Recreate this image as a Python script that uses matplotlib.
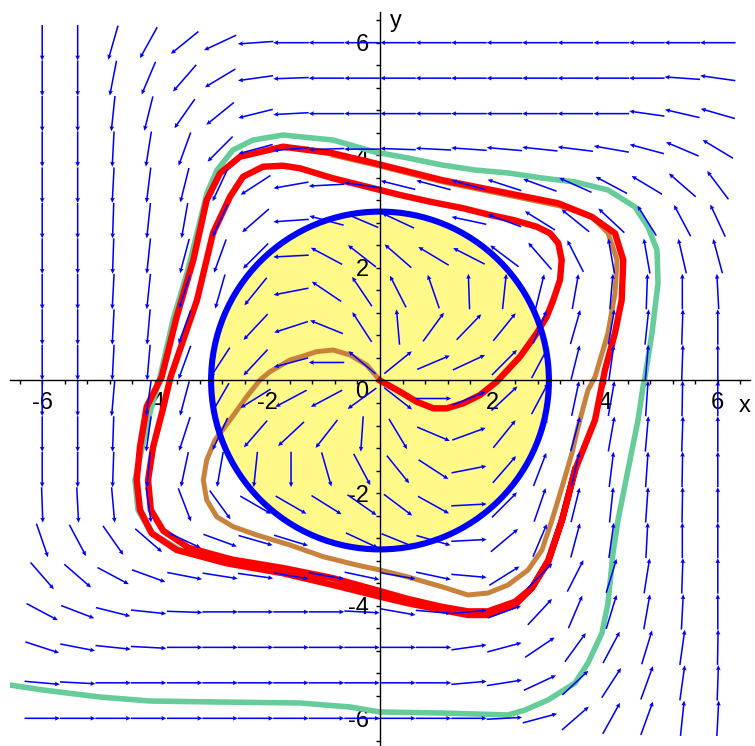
import numpy as np
import matplotlib
matplotlib.use('Agg')
import matplotlib.pyplot as plt
from matplotlib.patches import Circle
from matplotlib.ticker import FixedLocator

plt.rcParams['font.family'] = ['Liberation Sans', 'DejaVu Sans']

# direction field: arrow centres and arrow angles (degrees), rows from top (y=6) to bottom (y=-6)
field_x = [-6.0, -5.37, -4.74, -4.11, -3.47, -2.84, -2.21, -1.58, -0.95, -0.32,
           0.32, 0.95, 1.58, 2.21, 2.84, 3.47, 4.11, 4.74, 5.37, 6.0]
field_y = [6.0, 5.37, 4.74, 4.11, 3.47, 2.84, 2.21, 1.58, 0.95, 0.32,
           -0.32, -0.95, -1.58, -2.21, -2.84, -3.47, -4.11, -4.74, -5.37, -6.0]
field_angle = [
    [270, 270, 254, 241, 219, 205, 184, 180, 180, 180, 180, 180, 180, 180, 180, 180, 180, 180, 180, 180],
    [270, 270, 259, 247, 229, 211, 188, 182, 180, 180, 180, 180, 180, 180, 180, 180, 180, 180, 176, 172],
    [270, 270, 264, 256, 235, 219, 194, 183, 180, 180, 180, 180, 180, 180, 180, 180, 180, 172, 167, 164],
    [270, 270, 267, 261, 250, 225, 195, 185, 182, 180, 178, 177, 176, 175, 174, 173, 170, 165, 157, 149],
    [270, 270, 267, 263, 256, 245, 213, 190, 183, 172, 166, 165, 165, 162, 160, 156, 152, 149, 139, 127],
    [270, 270, 268, 264, 260, 245, 221, 184, 165, 157, 155, 160, 168, 160, 148, 141, 137, 122, 118, 115],
    [270, 270, 268, 264, 255, 250, 225, 183, 152, 142, 139, 149, 153, 143, 131, 117, 100, 100, 103, 105],
    [270, 270, 267, 264, 252, 254, 231, 191, 146, 124, 117, 109, 92, 84, 76, 80, 85, 88, 90, 93],
    [270, 270, 267, 265, 250, 250, 227, 198, 158, 123, 95, 54, 46, 51, 68, 74, 80, 84, 88, 90],
    [270, 270, 267, 265, 250, 237, 227, 195, 180, 140, 39, 23, 25, 45, 62, 76, 82, 85, 88, 90],
    [270, 270, 265, 262, 255, 240, 212, 208, 208, 216, 322, 0, 22, 43, 62, 78, 80, 86, 89, 90],
    [270, 270, 268, 262, 252, 245, 229, 223, 232, 266, 301, 337, 20, 51, 65, 75, 80, 85, 88, 90],
    [270, 270, 268, 265, 258, 260, 264, 270, 286, 298, 309, 327, 11, 49, 69, 77, 83, 86, 89, 90],
    [272, 273, 275, 278, 291, 306, 330, 330, 328, 325, 323, 331, 3, 45, 71, 76, 84, 86, 89, 90],
    [289, 298, 305, 319, 335, 340, 344, 343, 345, 335, 338, 344, 3, 40, 67, 75, 82, 87, 90, 90],
    [311, 319, 332, 340, 349, 351, 352, 350, 350, 348, 350, 348, 355, 32, 45, 63, 73, 81, 88, 90],
    [332, 339, 346, 354, 358, 0, 0, 0, 0, 357, 350, 355, 5, 20, 47, 67, 73, 80, 87, 90],
    [342, 349, 354, 357, 0, 0, 0, 0, 0, 0, 0, 0, 8, 15, 34, 54, 62, 73, 82, 89],
    [355, 357, 0, 0, 0, 0, 0, 0, 0, 0, 0, 0, 5, 9, 25, 43, 57, 70, 82, 88],
    [0, 0, 0, 0, 0, 0, 0, 0, 0, 0, 0, 0, 0, 3, 15, 41, 61, 70, 84, 87],
]

# trajectory starting at the origin (red spiral)
red_x = [0.0, 0.355, 0.652, 0.947, 1.185, 1.48, 1.776, 2.073, 2.487, 2.783, 2.961, 3.078,
         3.197, 3.227, 3.167, 3.02, 2.783, 2.368, 1.954, 1.48, 0.888, 0.355, 0.0,
         -0.835, -1.421, -1.723, -2.078, -2.433, -2.664, -2.966, -3.25, -3.72,
         -3.86, -4.03, -4.12, -4.07, -3.85, -3.40, -2.63, -1.723, -0.835, 0.0,
         0.497, 1.101, 1.563, 1.918, 2.398, 2.7, 2.984, 3.233, 3.464, 3.819, 3.996,
         4.174, 4.293, 4.321, 4.174, 3.76, 3.167, 2.279, 1.096, -0.089,
         -0.835, -1.723, -2.487, -2.842, -3.078, -3.316, -3.611, -3.877,
         -4.144, -4.263, -4.322, -4.263, -4.055, -3.611, -2.723, -1.723, -0.835, 0.0,
         0.497, 1.096, 1.563, 1.918, 2.398, 2.694, 2.99, 3.233, 3.464]
red_y = [0.0, -0.199, -0.377, -0.494, -0.494, -0.405, -0.258, -0.021, 0.423, 0.838, 1.133, 1.43,
         1.785, 2.14, 2.437, 2.615, 2.732, 2.851, 2.94, 3.059, 3.176, 3.295, 3.384,
         3.592, 3.769, 3.815, 3.797, 3.62, 3.265, 2.62, 1.43, 0.062,
         -0.524, -1.181, -1.767, -2.3, -2.67, -2.97, -3.18, -3.33, -3.51, -3.74,
         -3.88, -4.02, -4.10, -4.10, -3.93, -3.68, -3.20, -2.478, -1.59, -0.702, 0.187,
         0.844, 1.43, 2.14, 2.615, 2.909, 3.147, 3.325, 3.561, 3.858,
         4.036, 4.153, 3.975, 3.68, 3.206, 2.14, 1.133, 0.067,
         -0.465, -1.176, -1.767, -2.3, -2.714, -3.011, -3.247, -3.424, -3.632, -3.84,
         -3.957, -4.076, -4.165, -4.165, -3.988, -3.691, -3.218, -2.478, -1.59]

# second trajectory from the origin (brown)
brown_x = [0.0, -0.236, -0.533, -0.835, -1.124, -1.421, -1.599, -1.954, -2.131, -2.368,
           -2.664, -2.931, -3.078, -3.139, -3.078, -2.901, -2.606, -2.19, -1.599, -1.007,
           -0.414, 0.0, 0.497, 1.096, 1.563, 1.918, 2.274, 2.629, 2.877, 3.055, 3.233,
           3.41, 3.517, 3.694, 3.819, 4.05, 4.174, 4.21, 4.05, 3.766, 3.2, 2.28,
           1.1, -0.09, -0.83]
brown_y = [0.0, 0.275, 0.453, 0.542, 0.512, 0.417, 0.364, 0.156, 0.009, -0.288,
           -0.702, -1.057, -1.412, -1.767, -2.123, -2.419, -2.597, -2.744, -2.922, -3.13,
           -3.277, -3.366, -3.49, -3.663, -3.81, -3.775, -3.632, -3.366, -3.011, -2.478, -1.892,
           -1.288, -0.826, -0.169, 0.062, 0.844, 1.554, 2.14, 2.62, 2.904, 3.10, 3.29,
           3.53, 3.83, 4.0]

# trajectory coming in from the lower left (green)
green_x = [-6.572, -5.986, -4.973, -4.085, -2.895, -1.421, -0.533, 0.0, 1.101, 2.274,
           2.575, 2.984, 3.464, 3.694, 3.943, 4.05, 4.139, 4.227, 4.405, 4.583, 4.671,
           4.707, 4.831, 4.938, 4.92, 4.76, 4.529, 4.05, 3.464, 2.877, 2.274, 1.687,
           1.101, 0.497, -0.089, -0.835, -1.723, -2.256, -2.611, -2.895, -3.073, -3.25,
           -3.428, -3.677, -3.908, -4.085, -4.245, -4.352, -4.298, -4.067, -3.552,
           -2.7, -1.723, -0.835]
green_y = [-5.409, -5.497, -5.622, -5.693, -5.71, -5.728, -5.799, -5.888, -5.906, -5.941,
           -5.853, -5.675, -5.373, -5.018, -4.485, -3.952, -3.064, -2.478, -1.59, -0.702, -0.115,
           0.062, 0.844, 1.732, 2.318, 2.726, 3.082, 3.384, 3.526, 3.597, 3.686, 3.739,
           3.828, 3.952, 4.058, 4.271, 4.36, 4.271, 4.094, 3.739, 3.33, 2.62,
           1.909, 1.075, 0.062, -0.577, -1.288, -1.767, -2.3, -2.708, -3.011,
           -3.242, -3.419, -3.632]

circle_r = 3
x_labels = [-6, -4, -2, 2, 4, 6]
y_labels = [-6, -4, -2, 2, 4, 6]

fig = plt.figure(figsize=(7.55, 7.46), dpi=100)
ax = fig.add_axes([10 / 755, -4 / 746, 740 / 755, 738.5 / 746])
ax.set_xlim(-6.572, 6.572)
ax.set_ylim(-6.563, 6.554)

ax.add_patch(Circle((0, 0), circle_r, facecolor='#fff98a', edgecolor='none', zorder=1))

ax.plot(green_x, green_y, color='#66cc99', lw=4.0, zorder=2)
ax.plot(brown_x, brown_y, color='#c8823c', lw=3.6, zorder=2)
ax.plot(red_x, red_y, color='#ff0000', lw=4.6, zorder=3)
ax.add_patch(Circle((0, 0), circle_r, facecolor='none', edgecolor='#0000ff', lw=4.4, zorder=4))

X, Y = np.meshgrid(field_x, field_y)
th = np.radians(np.array(field_angle, dtype=float))
ax.quiver(X, Y, np.cos(th), np.sin(th), pivot='middle', angles='xy',
          scale_units='xy', scale=1 / 0.63, width=0.0021, headwidth=3,
          headlength=3.2, headaxislength=2.9, color='#0000ff', zorder=5)

for s in ['top', 'right']:
    ax.spines[s].set_visible(False)
ax.spines['bottom'].set_position('zero')
ax.spines['left'].set_position('zero')
for s in ['bottom', 'left']:
    ax.spines[s].set_linewidth(1.0)
    ax.spines[s].set_zorder(6)

ax.xaxis.set_major_locator(FixedLocator(x_labels))
ax.yaxis.set_major_locator(FixedLocator(y_labels))
ax.xaxis.set_minor_locator(FixedLocator(np.arange(-6.4, 6.5, 0.4)))
ax.yaxis.set_minor_locator(FixedLocator(np.arange(-6.4, 6.5, 0.4)))
ax.set_xticklabels([str(v) for v in x_labels])
ax.set_yticklabels([str(v) for v in y_labels])
ax.tick_params(which='both', direction='out', length=3, width=1, labelsize=17)
ax.tick_params(axis='x', pad=5)
ax.tick_params(axis='y', pad=5)

ax.text(-0.21, -0.21, '0', fontsize=17, ha='right', va='center')
ax.text(6.37, -0.45, 'x', fontsize=17, ha='left', va='center')
ax.text(0.18, 6.38, 'y', fontsize=17, ha='left', va='center')

fig.savefig('out.png', dpi=100)
